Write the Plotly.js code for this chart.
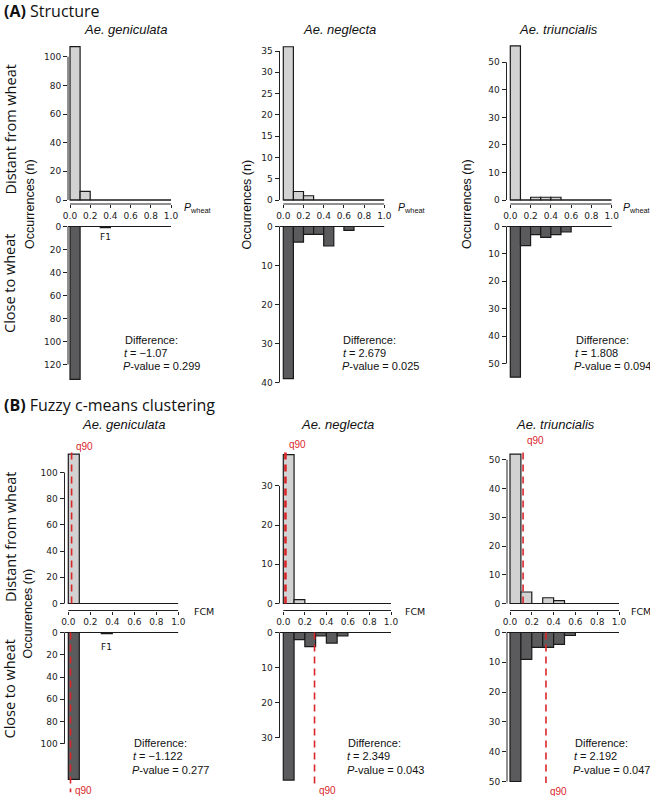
<!DOCTYPE html>
<html><head><meta charset="utf-8">
<script src="https://cdn.plot.ly/plotly-3.0.1.min.js"></script>
<style>html,body{margin:0;padding:0;background:#fff}</style>
</head><body><div id="chart" style="width:650px;height:796px"></div>
<script>
// ---------- DATA ----------
const binStarts = [0, 0.1, 0.2, 0.3, 0.4, 0.5, 0.6, 0.7, 0.8, 0.9];
const xTickVals = [0, 0.2, 0.4, 0.6, 0.8, 1.0];
const xTickText = ['0.0', '0.2', '0.4', '0.6', '0.8', '1.0'];
const species = ['Ae. geniculata', 'Ae. neglecta', 'Ae. triuncialis'];

// (A) Structure, P_wheat histograms
const structDistantGen = [107, 6, 0, 0, 0, 0, 0, 0, 0, 0];
const structDistantNeg = [36, 2, 1, 0, 0, 0, 0, 0, 0, 0];
const structDistantTri = [56, 0, 1, 1, 1, 0, 0, 0, 0, 0];
const structCloseGen = [133, 0, 0, 1, 0, 0, 0, 0, 0, 0];
const structCloseNeg = [39, 4, 2, 2, 5, 0, 1, 0, 0, 0];
const structCloseTri = [55, 7, 3, 4, 3, 2, 0, 0, 0, 0];
const structT = ['\u22121.07', '2.679', '1.808'];
const structP = ['0.299', '0.025', '0.094'];

// (B) Fuzzy c-means clustering histograms
const fcmDistantGen = [114, 0, 0, 0, 0, 0, 0, 0, 0, 0];
const fcmDistantNeg = [38, 1, 0, 0, 0, 0, 0, 0, 0, 0];
const fcmDistantTri = [52, 4, 0, 2, 1, 0, 0, 0, 0, 0];
const fcmCloseGen = [132, 0, 0, 1, 0, 0, 0, 0, 0, 0];
const fcmCloseNeg = [42, 2, 4, 1, 3, 1, 0, 0, 0, 0];
const fcmCloseTri = [50, 9, 5, 5, 4, 1, 0, 0, 0, 0];
const fcmQ90Distant = [0.03, 0.02, 0.12];
const fcmQ90Close = [0.02, 0.29, 0.33];
const fcmT = ['\u22121.122', '2.349', '2.192'];
const fcmP = ['0.277', '0.043', '0.047'];

// y tick values per subplot
const yTicksStructDistant = [[0, 20, 40, 60, 80, 100], [0, 5, 10, 15, 20, 25, 30, 35], [0, 10, 20, 30, 40, 50]];
const yTicksStructClose = [[0, 20, 40, 60, 80, 100, 120], [0, 10, 20, 30, 40], [0, 10, 20, 30, 40, 50]];
const yTicksFcmDistant = [[0, 20, 40, 60, 80, 100], [0, 10, 20, 30], [0, 10, 20, 30, 40, 50]];
const yTicksFcmClose = [[0, 20, 40, 60, 80, 100], [0, 10, 20, 30], [0, 10, 20, 30, 40, 50]];

// ---------- GEOMETRY (pixels) ----------
const W = 650, H = 796;
const px = x => x / W, py = y => 1 - y / H;
const colsA = [{x0: 70, x1: 171, ax: 68}, {x0: 283.3, x1: 384.3, ax: 279.5}, {x0: 510.3, x1: 611.7, ax: 506.5}];
const colsB = [{x0: 68.3, x1: 178.3, ax: 64.5}, {x0: 283.3, x1: 391, ax: 279.5}, {x0: 510, x1: 619, ax: 507}];
const rows = [
  {dir: 'up', cols: colsA, zero: 200, top: 44, axis: 204, scales: [1.433, 4.257, 2.754],
   data: [structDistantGen, structDistantNeg, structDistantTri], ticks: yTicksStructDistant},
  {dir: 'down', cols: colsA, zero: 226.5, bottoms: [382, 384, 382], scales: [1.15, 3.9, 2.74],
   data: [structCloseGen, structCloseNeg, structCloseTri], ticks: yTicksStructClose},
  {dir: 'up', cols: colsB, zero: 603.5, top: 447.5, axis: 610.5, scales: [1.31, 3.92, 2.874],
   data: [fcmDistantGen, fcmDistantNeg, fcmDistantTri], ticks: yTicksFcmDistant, q90: fcmQ90Distant},
  {dir: 'down', cols: colsB, zero: 632.5, bottoms: [792.5, 786.7, 783.3], scales: [1.113, 3.513, 2.98],
   data: [fcmCloseGen, fcmCloseNeg, fcmCloseTri], ticks: yTicksFcmClose, q90: fcmQ90Close}
];

const RED = '#d9262b';
const AX = '#222';
const tickFont = {family: 'DejaVu Sans', size: 9, color: '#222'};
const traces = [], shapes = [], annotations = [];
const layout = {
  width: W, height: H, margin: {l: 0, r: 0, t: 0, b: 0},
  paper_bgcolor: '#fff', plot_bgcolor: 'rgba(0,0,0,0)', showlegend: false,
  bargap: 0, font: {family: 'Liberation Sans, Arial, sans-serif', color: '#111'}
};

let idx = 0;
rows.forEach((row, r) => {
  for (let c = 0; c < 3; c++) {
    idx++;
    const xa = 'x' + idx, ya = 'y' + idx;
    const col = row.cols[c];
    const s = row.scales[c];
    const xLeft = -(col.x0 - col.ax) / (col.x1 - col.x0);
    let yDomain, yRange, qEnd;
    if (row.dir === 'up') {
      yDomain = [py(row.axis), py(row.top)];
      yRange = [-(row.axis - row.zero) / s, (row.zero - row.top) / s];
      qEnd = yRange[1];
    } else {
      yDomain = [py(row.bottoms[c]), py(row.zero - 2)];
      yRange = [(row.bottoms[c] - row.zero) / s, -2 / s];
      qEnd = yRange[0];
    }
    const ticks = row.ticks[c];
    const xaxis = {
      domain: [px(col.ax), px(col.x1)], range: [xLeft, 1], anchor: ya,
      showgrid: false, zeroline: false, showline: false, fixedrange: true
    };
    if (row.dir === 'up') {
      Object.assign(xaxis, {tickvals: xTickVals, ticktext: xTickText, ticks: 'outside', ticklen: 3,
        tickwidth: 1, tickcolor: AX, showticklabels: true, tickfont: tickFont});
    } else {
      Object.assign(xaxis, {ticks: '', showticklabels: false});
    }
    layout['xaxis' + idx] = xaxis;
    layout['yaxis' + idx] = {
      domain: yDomain, range: yRange, anchor: xa,
      showgrid: false, zeroline: false, showline: false, fixedrange: true,
      tickvals: ticks, ticktext: ticks.map(String), ticks: 'outside', ticklen: 4, tickwidth: 1,
      tickcolor: AX, tickfont: tickFont
    };
    traces.push({
      type: 'bar', x: binStarts, y: row.data[c], width: 0.1, offset: 0,
      xaxis: xa, yaxis: ya, hoverinfo: 'skip',
      marker: {color: (r % 2 === 0) ? '#d2d2d2' : '#5b5b5d', line: {color: '#1a1a1a', width: 1.2}}
    });
    // y axis line (0 .. last tick)
    shapes.push({type: 'line', xref: xa + ' domain', yref: ya, x0: 0, x1: 0,
      y0: 0, y1: ticks[ticks.length - 1], line: {color: AX, width: 1}});
    // baseline at zero
    shapes.push({type: 'line', xref: xa, yref: ya, x0: row.dir === 'up' ? 0 : xLeft, x1: 1,
      y0: 0, y1: 0, line: {color: '#1a1a1a', width: 1.2}});
    if (row.dir === 'up') {
      // offset tick axis line
      shapes.push({type: 'line', xref: xa, yref: ya + ' domain', x0: 0, x1: 1, y0: 0, y1: 0,
        line: {color: AX, width: 1}});
    }
    if (row.q90) {
      const q = row.q90[c];
      shapes.push({type: 'line', xref: xa, yref: ya, x0: q, x1: q, y0: 0, y1: qEnd,
        line: {color: RED, width: (r === 2 && c === 1) ? 2.6 : 1.6, dash: '7px,5px'}});
    }
  }
});

// ---------- TEXT ----------
function ann(o) {
  annotations.push(Object.assign({showarrow: false, xref: 'paper', yref: 'paper',
    xanchor: 'center', yanchor: 'middle'}, o));
}
const sec = {family: 'Open Sans', size: 16, color: '#111'};
ann({text: '<b>(A)</b> Structure', x: px(2), y: py(11), xanchor: 'left', font: sec});
ann({text: '<b>(B)</b> Fuzzy c-means clustering', x: px(2), y: py(405), xanchor: 'left', font: sec});

const spFont = {family: 'Liberation Sans', size: 13, color: '#111'};
const spA = [125, 339.3, 558], spB = [123.5, 337, 555.8];
species.forEach((sp, i) => {
  ann({text: '<i>' + sp + '</i>', x: px(spA[i]), y: py(29.3), font: spFont});
  ann({text: '<i>' + sp + '</i>', x: px(spB[i]), y: py(424.3), font: spFont});
});

const sideFont = {family: 'Open Sans', size: 14.5, color: '#111'};
ann({text: 'Distant from wheat', x: px(10), y: py(129.5), textangle: -90, font: sideFont});
ann({text: 'Close to wheat', x: px(9), y: py(283), textangle: -90, font: sideFont});
ann({text: 'Distant from wheat', x: px(10), y: py(537), textangle: -90, font: sideFont});
ann({text: 'Close to wheat', x: px(8.5), y: py(689), textangle: -90, font: sideFont});

const occFont = {family: 'Liberation Sans', size: 12.5, color: '#111'};
[30, 246.5, 467].forEach(x => ann({text: 'Occurrences (n)', x: px(x), y: py(204), textangle: -90, font: occFont}));
ann({text: 'Occurrences (n)', x: px(27.5), y: py(614), textangle: -90, font: occFont});

const labFont = {family: 'Liberation Sans', size: 10.5, color: '#111'};
[182, 395.5, 621].forEach(x => ann({text: '<i>P</i><sub>wheat</sub>', x: px(x), y: py(208), xanchor: 'left', font: labFont}));
[191.5, 403.3, 629].forEach(x => ann({text: 'FCM', x: px(x), y: py(611.7), xanchor: 'left', font: {family: 'DejaVu Sans', size: 9.5, color: '#111'}}));

const fFont = {family: 'DejaVu Sans', size: 9, color: '#111'};
ann({text: 'F1', xref: 'x4', x: 0.35, y: py(237.3), font: fFont});
ann({text: 'F1', xref: 'x10', x: 0.35, y: py(646.7), font: fFont});

const dFont = {family: 'Liberation Sans', size: 11, color: '#111'};
const diffA = [121, 340, 572], diffB = [130, 344.5, 571];
for (let i = 0; i < 3; i++) {
  ann({text: 'Difference:', x: px(diffA[i] + 1.5), y: py(339.5), xanchor: 'left', font: dFont});
  ann({text: '<i>t</i> = ' + structT[i], x: px(diffA[i] + 0.5), y: py(353), xanchor: 'left', font: dFont});
  ann({text: '<i>P</i>-value = ' + structP[i], x: px(diffA[i]), y: py(366), xanchor: 'left', font: dFont});
  ann({text: 'Difference:', x: px(diffB[i] + 1.5), y: py(743), xanchor: 'left', font: dFont});
  ann({text: '<i>t</i> = ' + fcmT[i], x: px(diffB[i] + 0.5), y: py(756), xanchor: 'left', font: dFont});
  ann({text: '<i>P</i>-value = ' + fcmP[i], x: px(diffB[i]), y: py(769.5), xanchor: 'left', font: dFont});
}

const qFont = {family: 'Liberation Sans', size: 10, color: RED};
const qTopY = [446.7, 444, 440.7], qBotY = [790, 790.7, 791.7];
for (let i = 0; i < 3; i++) {
  ann({text: 'q90', xref: 'x' + (7 + i), x: fcmQ90Distant[i], xshift: 2, y: py(qTopY[i]), xanchor: 'left', font: qFont});
  ann({text: 'q90', xref: 'x' + (10 + i), x: fcmQ90Close[i], xshift: 2, y: py(qBotY[i]), xanchor: 'left', font: qFont});
}

layout.shapes = shapes;
layout.annotations = annotations;
Plotly.newPlot('chart', traces, layout, {staticPlot: true, displayModeBar: false});
</script>
</body></html>
